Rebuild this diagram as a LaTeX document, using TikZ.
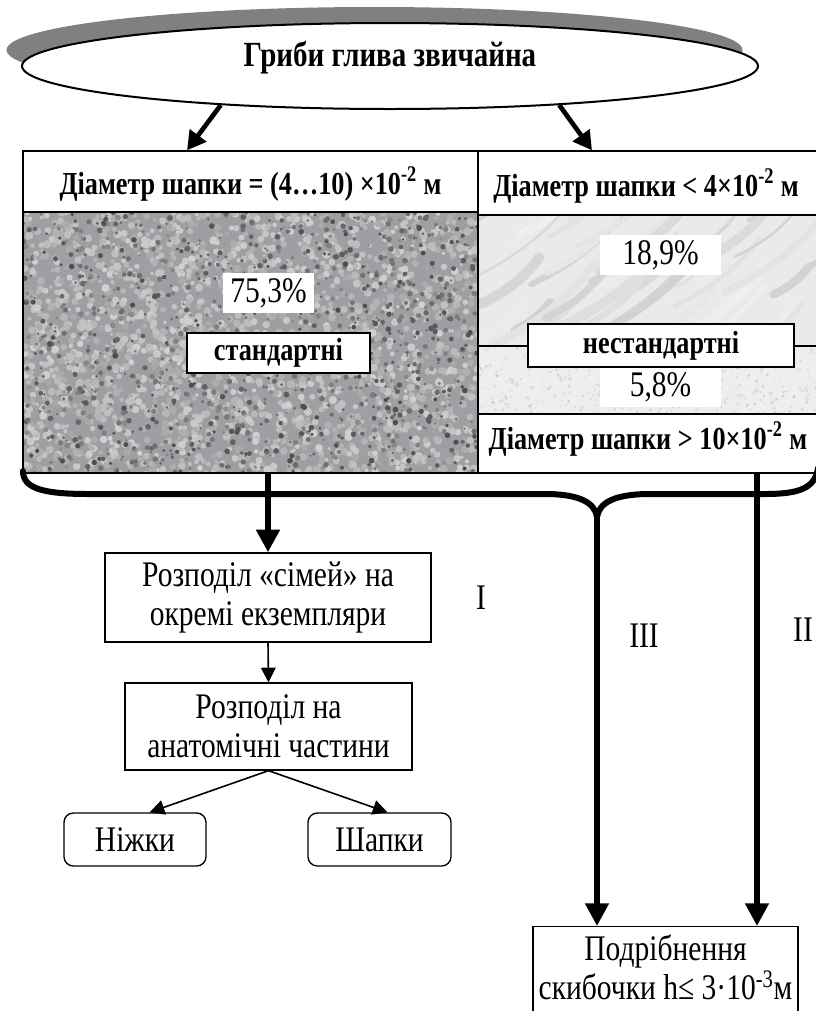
\documentclass[tikz,border=0pt]{standalone}
\usepackage{fontspec}
\setmainfont{Liberation Serif}[FakeStretch=0.82]
\usetikzlibrary{arrows.meta,shapes.geometric}
\definecolor{shadowgray}{RGB}{128,128,128}
\definecolor{speckbase}{RGB}{158,158,163}
\definecolor{marblebase}{RGB}{234,234,236}
\definecolor{grainbase}{RGB}{238,238,238}

\begin{document}
\begin{tikzpicture}[x=0.75pt, y=-0.75pt,
  dims/.style 2 args={minimum width=#1*0.75pt, minimum height=#2*0.75pt, inner sep=0pt},
  frame/.style={draw, line width=1pt, rectangle},
  headtxt/.style={font=\fontsize{24}{28}\selectfont\bfseries},
  plain/.style={font=\fontsize{27}{29.5}\selectfont, align=center},
  tag/.style={fill=white, font=\fontsize{27}{29.5}\selectfont},
  bigarrow/.style={line width=3.5pt, -{Triangle[width=15pt,length=14pt]}},
  fatarrow/.style={line width=5pt, -{Triangle[width=17pt,length=17pt]}},
  thinarrow/.style={line width=1.2pt, -{Triangle[width=11pt,length=11pt]}}]

\useasboundingbox (0,0) rectangle (815,1011);

% ---------- title ----------
\fill[shadowgray] (374.5,50) ellipse [x radius=276pt, y radius=32.25pt];
\node[ellipse, draw, line width=1.5pt, fill=white, minimum width=552pt, minimum height=64.5pt, inner sep=0pt]
  (root) at (390,66) {};
\node[font=\fontsize{26.5}{30}\selectfont\bfseries] (title) at (390,58) {Гриби глива звичайна};

% ---------- textures ----------
\pgfmathsetseed{11}
\begin{scope}
  \clip (23,212) rectangle (478,473);
  \fill[speckbase] (23,212) rectangle (478,473);
  \foreach \k in {1,...,2200}{
    \pgfmathsetmacro\sx{23+455*rnd}
    \pgfmathsetmacro\sy{212+261*rnd}
    \pgfmathsetmacro\sr{1.4+1.8*rnd}
    \pgfmathsetmacro\sg{18+16*rnd}
    \fill[black!\sg] (\sx,\sy) circle (\sr pt);
  }
  \foreach \k in {1,...,1100}{
    \pgfmathsetmacro\sx{23+455*rnd}
    \pgfmathsetmacro\sy{212+261*rnd}
    \pgfmathsetmacro\sr{0.8+1.4*rnd}
    \pgfmathsetmacro\sg{45+25*rnd}
    \fill[black!\sg] (\sx,\sy) circle (\sr pt);
  }
\end{scope}
\begin{scope}
  \clip (478,215) rectangle (818,346);
  \fill[marblebase] (478,215) rectangle (818,346);
  \foreach \k in {1,...,45}{
    \pgfmathsetmacro\ax{460+360*rnd}
    \pgfmathsetmacro\ay{215+150*rnd}
    \pgfmathsetmacro\al{30+90*rnd}
    \pgfmathsetmacro\aw{1.5+6*rnd}
    \pgfmathsetmacro\ag{6+12*rnd}
    \draw[black!\ag, line width=\aw pt, line cap=round]
      (\ax,\ay) .. controls ++(0.4*\al,-0.2*\al) and ++(-0.3*\al,0.4*\al) .. ++(\al,-0.8*\al);
  }
\end{scope}
\begin{scope}
  \clip (478,346) rectangle (818,414);
  \fill[grainbase] (478,346) rectangle (818,414);
  \foreach \k in {1,...,700}{
    \pgfmathsetmacro\sx{478+340*rnd}
    \pgfmathsetmacro\sy{346+68*rnd}
    \pgfmathsetmacro\sr{0.5+1*rnd}
    \pgfmathsetmacro\sg{6+14*rnd}
    \fill[black!\sg] (\sx,\sy) circle (\sr pt);
  }
\end{scope}

% ---------- size classes ----------
\node[frame, dims={455}{61}, fill=white] (hdrL) at (250.5,181.5) {};
\node[headtxt] (hdrLtxt) at (250.5,184) {Діаметр шапки = (4…10) ×10\textsuperscript{-2} м};
\node[frame, dims={455}{261}] (panelL) at (250.5,342.5) {};
\node[frame, dims={340}{64}, fill=white] (hdrR) at (648,183) {};
\node[headtxt] (hdrRtxt) at (646,186) {Діаметр шапки < 4×10\textsuperscript{-2} м};
\node[frame, dims={340}{131}] (upR) at (648,280.5) {};
\node[frame, dims={340}{68}] (lowR) at (648,380) {};
\node[frame, dims={340}{59}, fill=white] (botR) at (648,443.5) {};
\node[headtxt] (botRtxt) at (648,439) {Діаметр шапки > 10×10\textsuperscript{-2} м};

\node[tag, dims={91}{40}] (pctA) at (268.5,293) {75,3\%};
\node[frame, line width=1.5pt, fill=white, headtxt, dims={183}{40}] (stdlbl) at (278.5,353) {стандартні};
\node[tag, dims={121}{40}] (pctB) at (660.5,255) {18,9\%};
\node[tag, dims={121}{39}] (pctC) at (660.5,387) {5,8\%};
\node[frame, line width=1.5pt, fill=white, headtxt, dims={266}{43}] (nstdlbl) at (661,345.5) {нестандартні};

\draw[bigarrow] (root.193) -- ([xshift=-47.6pt]hdrL.north);
\draw[bigarrow] (root.347) -- ([xshift=-42pt]hdrR.north);

% ---------- brace ----------
\coordinate (bracetip) at (597,517);
\draw[line width=4.5pt, line cap=round]
  (23,471) .. controls (23,488) and (42,494) .. (88,494) -- (545,494)
  .. controls (580,494) and (595,503) .. (bracetip)
  .. controls (599,503) and (614,494) .. (650,494) -- (765,494)
  .. controls (800,494) and (815,488) .. (818,468);

% ---------- processing ----------
\node[frame, plain, dims={326}{89}] (split) at (268,597.5) {Розподіл «сімей» на\\окремі екземпляри};
\node[frame, plain, dims={287}{87}] (parts) at (268.5,726.5) {Розподіл на\\анатомічні частини};
\node[frame, plain, rounded corners=7pt, dims={142}{53}] (legs) at (135,839.5) {Ніжки};
\node[frame, plain, rounded corners=7pt, dims={143}{53}] (caps) at (379.5,839.5) {Шапки};
\node[frame, dims={265}{100}, anchor=north] (grind) at (665.5,926) {};
\node[plain] (grindtxt) at (665.5,967) {Подрібнення\\скибочки h≤ 3·10\textsuperscript{-3}м};

\node[plain] (stageone) at (481,598) {I};
\node[plain] (stagethree) at (644,636) {III};
\node[plain] (stagetwo) at (803,630) {II};

\coordinate (rtop) at ([xshift=81.75pt]botR.south);
\draw[fatarrow] (split.north |- panelL.south) -- (split.north);
\draw[fatarrow] (bracetip) -- (bracetip |- grind.north);
\draw[fatarrow] (rtop) -- (rtop |- grind.north);

\draw[thinarrow] (split.south) -- (parts.north);
\draw[thinarrow] (parts.south) -- ([xshift=11pt]legs.north);
\draw[thinarrow] (parts.south) -- ([xshift=6pt]caps.north);

\end{tikzpicture}
\end{document}
